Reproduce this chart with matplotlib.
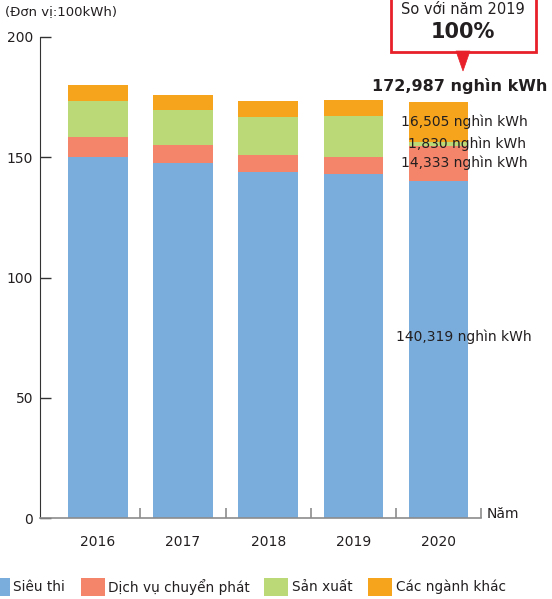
import numpy as np
import matplotlib
matplotlib.use('Agg')
import matplotlib.pyplot as plt
from matplotlib.patches import Rectangle, Polygon

plt.rcParams['font.family'] = ['DejaVu Sans']

# data (unit: 100kWh)
years = ['2016', '2017', '2018', '2019', '2020']
sieu_thi = [150.1, 147.6, 144.0, 143.0, 140.319]
dich_vu = [8.3, 7.5, 6.9, 7.1, 14.333]
san_xuat = [15.0, 14.5, 15.8, 17.1, 1.830]
nganh_khac = [6.6, 6.3, 6.7, 6.6, 16.505]
series_names = ['Siêu thi', 'Dịch vụ chuyển phát', 'Sản xuất', 'Các ngành khác']
colors = ['#7aaddc', '#f4846a', '#bcd977', '#f6a41c']
labels_2020 = ['140,319 nghìn kWh', '14,333 nghìn kWh', '1,830 nghìn kWh', '16,505 nghìn kWh']
total_2020 = '172,987 nghìn kWh'

W, H = 552, 599
txt = '#231f20'

def fx(px):
    return px / W

def fy(py):
    return 1 - py / H

fig = plt.figure(figsize=(W / 100, H / 100), dpi=100)
ax = fig.add_axes([fx(40), fy(518), fx(481) - fx(40), fy(37) - fy(518)])

x = np.arange(len(years))
bottom = np.zeros(len(years))
for vals, c in zip([sieu_thi, dich_vu, san_xuat, nganh_khac], colors):
    ax.bar(x, vals, width=0.7, bottom=bottom, color=c, zorder=2)
    bottom = bottom + np.array(vals)

ax.set_xlim(-0.68, 4.5)
ax.set_ylim(0, 200)

for s in ['top', 'right']:
    ax.spines[s].set_visible(False)
ax.spines['left'].set_color('#333333')
ax.spines['bottom'].set_color('#8c8c8c')
ax.spines['bottom'].set_linewidth(1.2)

ax.set_yticks([0, 50, 100, 150, 200])
ax.tick_params(axis='y', direction='in', length=8, width=1, color='#333333',
               labelsize=10, labelcolor=txt, pad=5)
ax.set_xticks(x)
ax.set_xticklabels(years)
ax.set_xticks(np.arange(0.5, 5, 1), minor=True)
ax.tick_params(axis='x', which='major', length=0, labelsize=10, labelcolor=txt, pad=12)
ax.tick_params(axis='x', which='minor', direction='in', length=7, width=1.2, color='#8c8c8c')

# labels on the 2020 bar
lx = 4.3
ax.text(lx, 75.3, labels_2020[0], ha='center', va='center', fontsize=10, color=txt, zorder=5)
ax.text(lx, 147.6, labels_2020[1], ha='center', va='center', fontsize=10, color=txt, zorder=5)
ax.text(lx + 0.04, 155.8, labels_2020[2], ha='center', va='center', fontsize=10, color=txt, zorder=5)
ax.text(lx, 164.9, labels_2020[3], ha='center', va='center', fontsize=10, color=txt, zorder=5)
ax.text(lx - 0.05, 179.6, total_2020, ha='center', va='center', fontsize=11.5,
        fontweight='bold', color=txt, zorder=5)

# axis texts
fig.text(fx(5), fy(12), '(Đơn vị:100kWh)', ha='left', va='center', fontsize=9.5, color=txt)
fig.text(fx(487), fy(514), 'Năm', ha='left', va='center', fontsize=10, color=txt)

# callout box
red = '#e8202a'
fig.patches.append(Rectangle((fx(391), fy(52)), fx(536) - fx(391), fy(-5) - fy(52),
                             transform=fig.transFigure, facecolor='white',
                             edgecolor=red, linewidth=2))
fig.patches.append(Polygon([(fx(456), fy(51)), (fx(470), fy(51)), (fx(463), fy(71))],
                           closed=True, transform=fig.transFigure, facecolor=red,
                           edgecolor=red, linewidth=0.5))
fig.text(fx(463), fy(9), 'So với năm 2019', ha='center', va='center', fontsize=10.5, color=txt)
fig.text(fx(463), fy(32), '100%', ha='center', va='center', fontsize=15,
         fontweight='bold', color=txt)

# legend
leg_items = [(-14, 13), (81, 108), (264, 292), (368, 396)]
for (sx, tx), name, c in zip(leg_items, series_names, colors):
    fig.patches.append(Rectangle((fx(sx), fy(596)), fx(24), fy(578) - fy(596),
                                 transform=fig.transFigure, facecolor=c, edgecolor='none'))
    fig.text(fx(tx), fy(587), name, ha='left', va='center', fontsize=9.8, color=txt)

fig.savefig('out.png', dpi=100)
